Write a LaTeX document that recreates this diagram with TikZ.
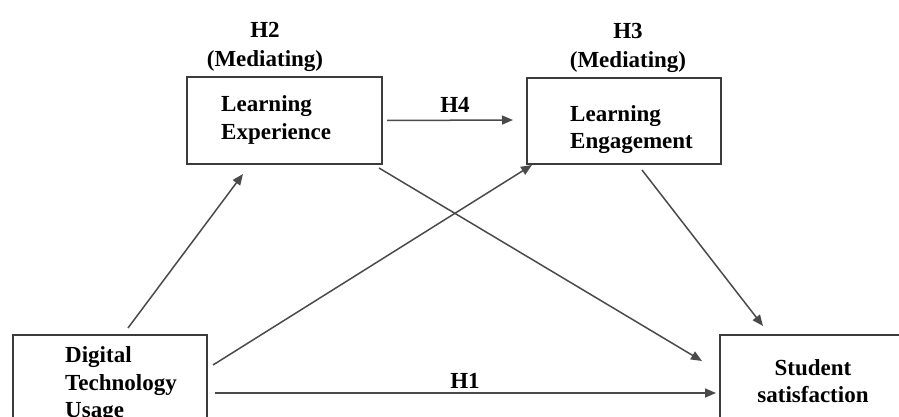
\documentclass[tikz,border=0pt]{standalone}
\usepackage{fontspec}
\setmainfont{Liberation Serif}
\usetikzlibrary{arrows.meta}
\definecolor{edge}{HTML}{4A4A4A}
\definecolor{frame}{HTML}{3C3C3C}
\tikzset{
  box/.style={draw=frame, line width=1.6pt, rectangle, inner sep=0pt, outer sep=0pt},
  words/.style={font=\fontsize{23}{27.5}\selectfont\bfseries, inner sep=0pt, text=black},
  hyp/.style={font=\fontsize{23}{29}\selectfont\bfseries, inner sep=0pt, align=center, text=black},
  link/.style={draw=edge, line width=1.5pt, -{Triangle[length=11pt,width=9pt]}}
}
\begin{document}
\begin{tikzpicture}[x=1pt, y=-1pt]
  \useasboundingbox (0,0) rectangle (899,417);
  \clip (0,0) rectangle (899,417);

  % construct boxes
  \node[box, minimum width=195pt, minimum height=87pt] (le) at (284.5,120.5) {};
  \node[box, minimum width=194pt, minimum height=86pt] (lg) at (624,121) {};
  \node[box, minimum width=194pt, minimum height=110pt] (dt) at (110,390) {};
  \node[box, minimum width=210pt, minimum height=110pt] (ss) at (825,390) {};

  % box texts
  \node[words, align=left, anchor=west] (leText) at (221,120) {Learning\\Experience};
  \node[words, align=left, anchor=west] (lgText) at (570,129.5) {Learning\\Engagement};
  \node[words, align=left, anchor=west] (dtText) at (65,385) {Digital\\Technology\\Usage};
  \node[words, align=center] (ssText) at (813,381) {Student\\satisfaction};

  % hypothesis labels
  \node[hyp] (h2) at (265,47) {H2\\(Mediating)};
  \node[hyp] (h3) at (628,48) {H3\\(Mediating)};
  \node[hyp, anchor=base] (h4) at (455,113) {H4};
  \node[hyp, anchor=base] (h1) at (465,388) {H1};

  % paths
  \draw[link] ([xshift=115pt,yshift=7pt]dt.north west) -- ([xshift=56pt,yshift=-10pt]le.south west);
  \draw[link] ([xshift=6pt,yshift=-30pt]dt.north east) -- ([xshift=5pt,yshift=-1pt]lg.south west);
  \draw[link] ([xshift=8pt,yshift=-58pt]dt.north east) -- ([xshift=-4pt,yshift=-58pt]ss.north west);
  \draw[link] ([xshift=5pt,yshift=0pt]le.east) -- ([xshift=-14pt,yshift=1pt]lg.west);
  \draw[link] ([xshift=-3pt,yshift=-4pt]le.south east) -- ([xshift=-18pt,yshift=-26pt]ss.north west);
  \draw[link] ([xshift=115pt,yshift=-6pt]lg.south west) -- ([xshift=43pt,yshift=9pt]ss.north west);
\end{tikzpicture}
\end{document}
